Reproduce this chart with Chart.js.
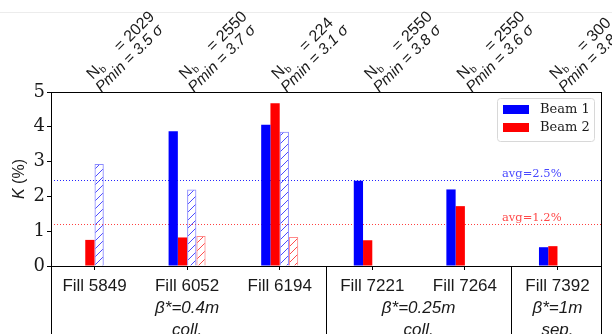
<!DOCTYPE html>
<html>
<head>
<meta charset="utf-8">
<script src="https://cdn.jsdelivr.net/npm/chart.js@4.4.0/dist/chart.umd.min.js"></script>
<style>
  html, body { margin: 0; padding: 0; background: #fff; }
  #wrap { width: 612px; height: 334px; position: relative; }
</style>
</head>
<body>
<div id="wrap"><canvas id="chart"></canvas></div>
<script>
// --- DATA ---
const fills = ['Fill 5849', 'Fill 6052', 'Fill 6194', 'Fill 7221', 'Fill 7264', 'Fill 7392'];
const beam1Solid = [null, 3.87, 4.06, 2.45, 2.20, 0.54];
const beam2Solid = [0.75, 0.82, 4.68, 0.74, 1.72, 0.57];
const beam1Hatched = [2.93, 2.20, 3.86, null, null, null];
const beam2Hatched = [null, 0.86, 0.83, null, null, null];
const nBunches = ['2029', '2550', '224', '2550', '2550', '300'];
const pMin = ['3.5', '3.7', '3.1', '3.8', '3.6', '3.8'];
const avgValues = [2.47, 1.22];
const avgLabels = ['avg=2.5%', 'avg=1.2%'];
const groupBeta = ['β*=0.4m', 'β*=0.25m', 'β*=1m'];
const groupMode = ['coll.', 'coll.', 'sep.'];
const groupFirst = [0, 3, 5];
const groupLast = [2, 4, 5];

const BLUE = '#0000ff';
const RED = '#ff0000';
const SERIF = '"DejaVu Serif", serif';
const SANS = '"Liberation Sans", Arial, sans-serif';
const TXT = '#1a1a1a';

// hatch pattern like matplotlib '/'
function hatch(color) {
    const c = document.createElement('canvas');
    c.width = 8; c.height = 8;
    const g = c.getContext('2d');
    g.strokeStyle = color;
    g.lineWidth = 1;
    g.beginPath();
    g.moveTo(0, 8); g.lineTo(8, 0);
    g.moveTo(-1, 1); g.lineTo(1, -1);
    g.moveTo(7, 9); g.lineTo(9, 7);
    g.stroke();
    return g.createPattern(c, 'repeat');
}

const toPoints = arr => arr.map((v, i) => ({ x: i, y: v }));

// --- DECORATIONS ---
const decor = {
    id: 'decor',
    beforeDatasetsDraw(chart) {
        const { ctx, chartArea: a, scales: { y } } = chart;
        const cols = ['rgba(0,0,255,0.85)', 'rgba(255,0,0,0.75)'];
        ctx.save();
        ctx.lineWidth = 1;
        ctx.setLineDash([1, 2]);
        avgValues.forEach((v, k) => {
            const py = Math.round(y.getPixelForValue(v)) + 0.5;
            ctx.strokeStyle = cols[k];
            ctx.beginPath();
            ctx.moveTo(a.left, py);
            ctx.lineTo(a.right, py);
            ctx.stroke();
        });
        ctx.restore();
    },
    afterDraw(chart) {
        const { ctx, chartArea: a, scales: { x, y } } = chart;
        const H = chart.height;
        ctx.save();

        // faint page line at top
        ctx.strokeStyle = '#ececec';
        ctx.lineWidth = 1;
        ctx.beginPath();
        ctx.moveTo(0, 12.5); ctx.lineTo(chart.width, 12.5);
        ctx.stroke();

        // axes frame
        ctx.strokeStyle = '#000';
        ctx.strokeRect(Math.round(a.left) + 0.5, Math.round(a.top) + 0.5,
            Math.round(a.right - a.left), Math.round(a.bottom - a.top));

        // table lines below the axis
        const vx = [a.left, a.right];
        for (let k = 0; k < groupLast.length - 1; k++) {
            vx.push(x.getPixelForValue((groupLast[k] + groupFirst[k + 1]) / 2));
        }
        ctx.beginPath();
        vx.forEach(px => {
            const p = Math.round(px) + 0.5;
            ctx.moveTo(p, a.bottom);
            ctx.lineTo(p, H);
        });
        ctx.stroke();

        // group labels
        ctx.fillStyle = TXT;
        ctx.textAlign = 'center';
        ctx.textBaseline = 'middle';
        ctx.font = 'italic 17px ' + SANS;
        groupBeta.forEach((t, k) => {
            const cx = x.getPixelForValue((groupFirst[k] + groupLast[k]) / 2);
            ctx.fillText(t, cx, 308);
            ctx.fillText(groupMode[k], cx, 330);
        });

        // avg labels
        const cols = ['rgba(40,40,255,0.85)', 'rgba(255,40,40,0.85)'];
        ctx.textAlign = 'left';
        ctx.textBaseline = 'alphabetic';
        ctx.font = '11.5px ' + SERIF;
        avgValues.forEach((v, k) => {
            ctx.fillStyle = cols[k];
            ctx.fillText(avgLabels[k], 502, y.getPixelForValue(v) - 3);
        });

        // legend
        const lx = 497.5, ly = 98.5, lw = 97, lh = 43;
        ctx.fillStyle = 'rgba(255,255,255,0.85)';
        ctx.strokeStyle = '#d8d8d8';
        ctx.beginPath();
        ctx.roundRect(lx, ly, lw, lh, 3);
        ctx.fill();
        ctx.stroke();
        ctx.font = '13px ' + SERIF;
        ctx.textBaseline = 'middle';
        [0, 1].forEach(k => {
            const ds = chart.data.datasets[k];
            const ry = 105 + k * 18;
            ctx.fillStyle = ds.backgroundColor;
            ctx.fillRect(503, ry, 26, 9);
            ctx.fillStyle = TXT;
            ctx.fillText(ds.label, 540, ry + 5);
        });

        // y title
        ctx.save();
        ctx.translate(20, 179);
        ctx.rotate(-Math.PI / 2);
        ctx.textAlign = 'left';
        ctx.textBaseline = 'middle';
        ctx.font = 'italic 16px ' + SANS;
        const kW = ctx.measureText('K').width;
        ctx.font = '16px ' + SANS;
        const rW = ctx.measureText(' (%)').width;
        ctx.fillStyle = TXT;
        ctx.font = 'italic 16px ' + SANS;
        ctx.fillText('K', -(kW + rW) / 2, 0);
        ctx.font = '16px ' + SANS;
        ctx.fillText(' (%)', -(kW + rW) / 2 + kW, 0);
        ctx.restore();

        // rotated annotations above the plot
        ctx.fillStyle = TXT;
        ctx.textAlign = 'left';
        ctx.textBaseline = 'alphabetic';
        fills.forEach((f, i) => {
            const px = x.getPixelForValue(i);
            ctx.save();
            ctx.translate(px + 7, 93);
            ctx.rotate(-Math.PI / 4);
            ctx.font = 'italic 15.5px ' + SANS;
            ctx.fillText('Pmin = ' + pMin[i] + ' σ', 0, 0);
            ctx.font = '16px ' + SANS;
            ctx.fillText('N', 3, -15.5);
            ctx.font = '10px ' + SANS;
            ctx.fillText('b', 15, -12.5);
            ctx.font = '16px ' + SANS;
            ctx.fillText('= ' + nBunches[i], 42, -15.5);
            ctx.restore();
        });

        ctx.restore();
    }
};

// --- CHART ---
const ctx = document.getElementById('chart').getContext('2d');
const chart = new Chart(ctx, {
    type: 'bar',
    data: {
        datasets: [
            { label: 'Beam 1', data: toPoints(beam1Solid), backgroundColor: BLUE, borderWidth: 0 },
            { label: 'Beam 2', data: toPoints(beam2Solid), backgroundColor: RED, borderWidth: 0 },
            { label: 'Beam 1 (hatched)', data: toPoints(beam1Hatched),
              backgroundColor: hatch('rgba(0,0,255,0.7)'), borderColor: 'rgba(60,60,255,0.6)', borderWidth: 1 },
            { label: 'Beam 2 (hatched)', data: toPoints(beam2Hatched),
              backgroundColor: hatch('rgba(255,0,0,0.7)'), borderColor: 'rgba(255,60,60,0.6)', borderWidth: 1 }
        ]
    },
    options: {
        responsive: true,
        maintainAspectRatio: false,
        animation: false,
        devicePixelRatio: 1,
        layout: { padding: { top: 92, right: 11, left: 0, bottom: 0 } },
        datasets: { bar: { categoryPercentage: 0.4, barPercentage: 1.0 } },
        plugins: {
            legend: { display: false },
            tooltip: { enabled: false }
        },
        scales: {
            x: {
                type: 'linear',
                min: -0.47,
                max: 5.47,
                offset: false,
                afterBuildTicks: s => { s.ticks = fills.map((f, i) => ({ value: i })); },
                afterFit: s => { s.height = 68; },
                grid: { drawOnChartArea: false, drawTicks: true, tickLength: 4, color: '#000', offset: false },
                border: { display: true, color: '#000' },
                ticks: {
                    autoSkip: false, maxRotation: 0, padding: 6,
                    color: TXT, font: { family: SANS, size: 17 },
                    callback: v => fills[v]
                }
            },
            y: {
                min: 0,
                max: 5,
                afterFit: s => { s.width = 51; },
                grid: { drawOnChartArea: false, drawTicks: true, tickLength: 4, color: '#000' },
                border: { display: true, color: '#000' },
                ticks: { stepSize: 1, padding: 2, color: TXT, font: { family: SERIF, size: 18 } }
            }
        }
    },
    plugins: [decor]
});
</script>
</body>
</html>
